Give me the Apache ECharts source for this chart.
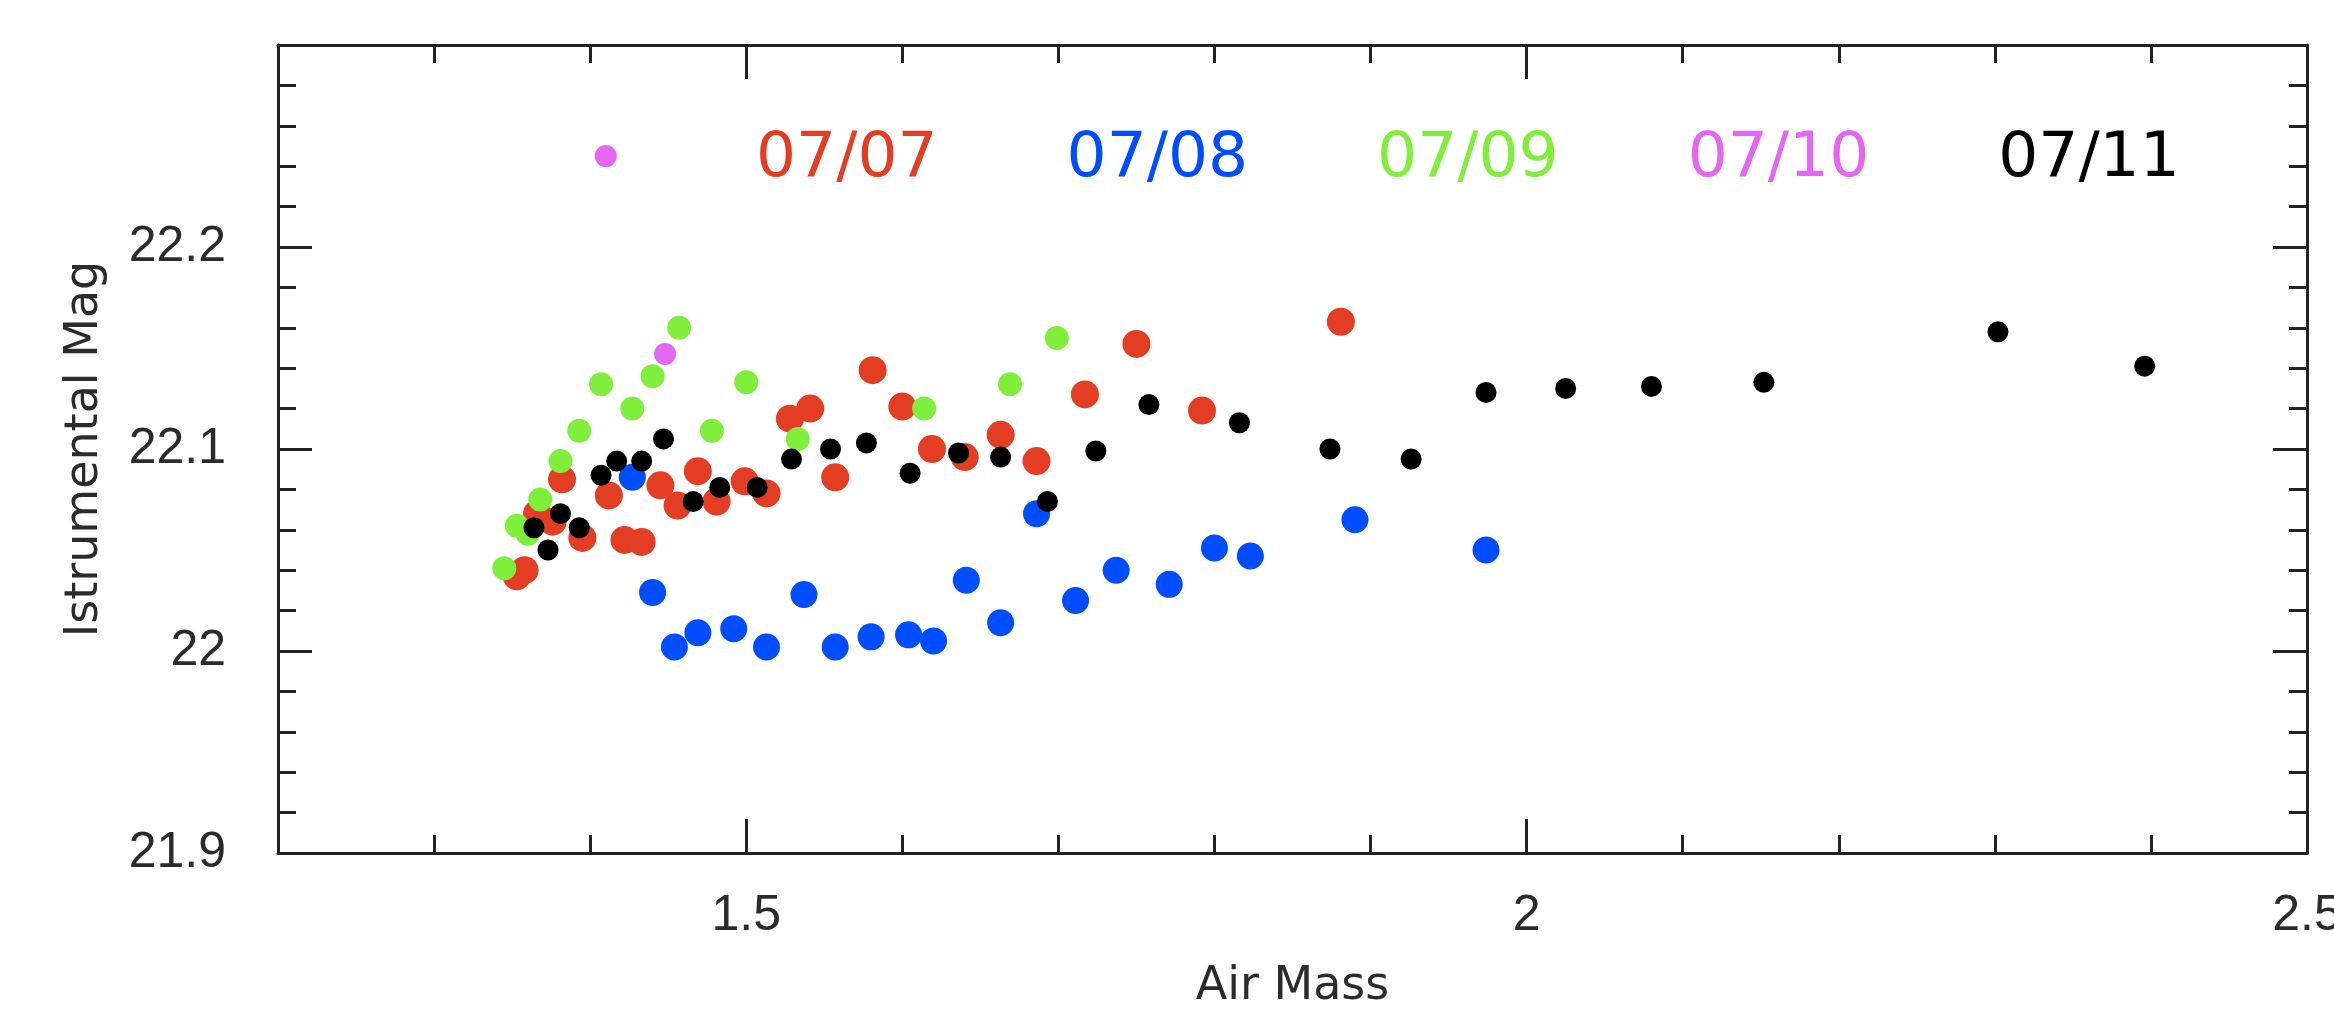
<!DOCTYPE html>
<html>
<head>
<meta charset="utf-8">
<script src="https://cdn.jsdelivr.net/npm/echarts@6/dist/echarts.min.js"></script>
<style>
  html, body { margin: 0; padding: 0; background: #fff; }
  #chart { width: 2334px; height: 1016px; }
</style>
</head>
<body>
<div id="chart"></div>
<script>
// [air mass, instrumental mag] per night
var night0707 = [
    [1.353, 22.037], [1.358, 22.040], [1.366, 22.068], [1.376, 22.064], [1.382, 22.085],
    [1.395, 22.056], [1.412, 22.077], [1.422, 22.055], [1.433, 22.054], [1.445, 22.082],
    [1.456, 22.072], [1.469, 22.089], [1.481, 22.074], [1.499, 22.084], [1.513, 22.078],
    [1.528, 22.115], [1.541, 22.120], [1.557, 22.086], [1.581, 22.139], [1.600, 22.121],
    [1.619, 22.100], [1.640, 22.096], [1.663, 22.107], [1.686, 22.094], [1.717, 22.127],
    [1.750, 22.152], [1.792, 22.119], [1.881, 22.163]
];
var night0708 = [
    [1.427, 22.086], [1.440, 22.029], [1.454, 22.002], [1.469, 22.009], [1.492, 22.011],
    [1.513, 22.002], [1.537, 22.028], [1.557, 22.002], [1.580, 22.007], [1.604, 22.008],
    [1.620, 22.005], [1.641, 22.035], [1.663, 22.014], [1.686, 22.068], [1.711, 22.025],
    [1.737, 22.040], [1.771, 22.033], [1.800, 22.051], [1.823, 22.047], [1.890, 22.065],
    [1.974, 22.050]
];
var night0709 = [
    [1.345, 22.041], [1.353, 22.062], [1.360, 22.058], [1.368, 22.075], [1.381, 22.094],
    [1.393, 22.109], [1.407, 22.132], [1.427, 22.120], [1.440, 22.136], [1.457, 22.160],
    [1.478, 22.109], [1.500, 22.133], [1.533, 22.105], [1.614, 22.120], [1.669, 22.132],
    [1.699, 22.155]
];
var night0710 = [
    [1.410, 22.245], [1.448, 22.147]
];
var night0711 = [
    [1.364, 22.061], [1.373, 22.050], [1.381, 22.068], [1.393, 22.061], [1.407, 22.087],
    [1.417, 22.094], [1.433, 22.094], [1.447, 22.105], [1.466, 22.074], [1.483, 22.081],
    [1.507, 22.081], [1.529, 22.095], [1.554, 22.100], [1.577, 22.103], [1.605, 22.088],
    [1.636, 22.098], [1.663, 22.096], [1.693, 22.074], [1.724, 22.099], [1.758, 22.122],
    [1.816, 22.113], [1.874, 22.100], [1.926, 22.095], [1.974, 22.128], [2.025, 22.130],
    [2.080, 22.131], [2.152, 22.133], [2.302, 22.158], [2.396, 22.141]
];

var nightNames = ['07/07', '07/08', '07/09', '07/10', '07/11'];
var nightColors = ['#e33d24', '#004cff', '#80ef3c', '#e466f2', '#000000'];
var nightSizes = [28, 27, 24, 22, 21];

var xMin = 1.2, xMax = 2.5;
var yMin = 21.9, yMax = 22.3;
var xMajorTicks = [1.5, 2, 2.5];
var yMajorTicks = [21.9, 22, 22.1, 22.2, 22.3];
var yTickLabels = [21.9, 22, 22.1, 22.2];

var chart = echarts.init(document.getElementById('chart'));

var axisColor = '#222';
var labelFont = 'Liberation Sans';
var nameFont = 'DejaVu Sans';

// short ticks every step, no labels
function minorAxis(position, min, max, step) {
    return {
        type : 'value',
        position : position,
        min : min,
        max : max,
        interval : step,
        axisLine : { show : true, onZero : false, lineStyle : { color : axisColor, width : 3 } },
        axisTick : { show : true, inside : true, length : 18, lineStyle : { color : axisColor, width : 3 } },
        axisLabel : { show : false },
        splitLine : { show : false }
    };
}

// long ticks at the labelled values
function majorAxis(position, min, max, ticks, labels) {
    return {
        type : 'value',
        position : position,
        min : min,
        max : max,
        axisLine : { show : false },
        axisTick : { show : true, inside : true, length : 34, customValues : ticks, lineStyle : { color : axisColor, width : 3 } },
        axisLabel : labels ? {
            show : true,
            customValues : labels,
            fontFamily : labelFont,
            fontSize : 50,
            color : '#2b2b2b'
        } : { show : false },
        splitLine : { show : false }
    };
}

var xBottom = minorAxis('bottom', xMin, xMax, 0.1);
xBottom.name = 'Air Mass';
xBottom.nameLocation = 'middle';
xBottom.nameGap = 111;
xBottom.nameTextStyle = { fontFamily : nameFont, fontSize : 46, color : '#2b2b2b' };

var xBottomMajor = majorAxis('bottom', xMin, xMax, xMajorTicks, xMajorTicks);
xBottomMajor.axisLabel.margin = 38;

var yLeft = minorAxis('left', yMin, yMax, 0.02);
yLeft.name = 'Istrumental Mag';
yLeft.nameLocation = 'middle';
yLeft.nameGap = 170;
yLeft.nameTextStyle = { fontFamily : nameFont, fontSize : 46, color : '#2b2b2b' };

var yLeftMajor = majorAxis('left', yMin, yMax, yMajorTicks, yTickLabels);
yLeftMajor.axisLabel.margin = 52;

var series = [];
var allData = [night0707, night0708, night0709, night0710, night0711];
for (var i = 0; i < nightNames.length; i++) {
    series.push({
        name : nightNames[i],
        type : 'scatter',
        xAxisIndex : 0,
        yAxisIndex : 0,
        symbol : 'circle',
        symbolSize : nightSizes[i],
        itemStyle : { color : nightColors[i], opacity : 1 },
        emphasis : { disabled : true },
        data : allData[i]
    });
}

var legendData = [];
for (var j = 0; j < nightNames.length; j++) {
    legendData.push({ name : nightNames[j], textStyle : { color : nightColors[j] } });
}

var option = {
    animation : false,
    backgroundColor : '#ffffff',
    grid : {
        left : 278,
        right : 27,
        top : 45,
        bottom : 163,
        containLabel : false,
        outerBoundsMode : 'none'
    },
    legend : {
        data : legendData,
        icon : 'none',
        itemWidth : 0,
        itemHeight : 10,
        itemGap : 124,
        left : 746,
        top : 123,
        textStyle : { fontFamily : nameFont, fontSize : 63 }
    },
    xAxis : [
        xBottom,
        xBottomMajor,
        minorAxis('top', xMin, xMax, 0.1),
        majorAxis('top', xMin, xMax, xMajorTicks, null)
    ],
    yAxis : [
        yLeft,
        yLeftMajor,
        minorAxis('right', yMin, yMax, 0.02),
        majorAxis('right', yMin, yMax, yMajorTicks, null)
    ],
    series : series
};

chart.setOption(option);
</script>
</body>
</html>
